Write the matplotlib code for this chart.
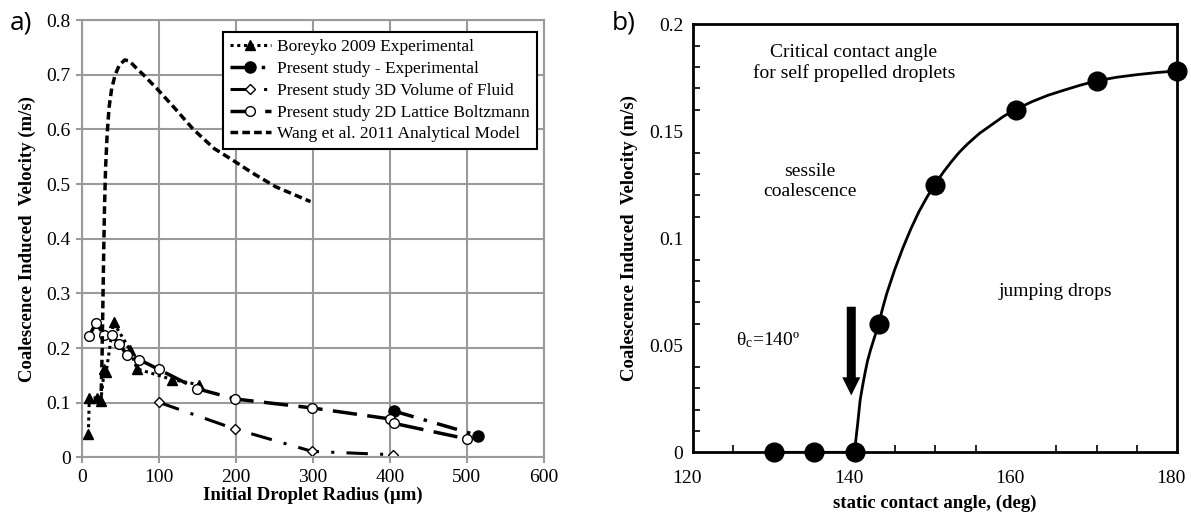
import numpy as np
import matplotlib
matplotlib.use('Agg')
import matplotlib.pyplot as plt
import matplotlib.transforms as mtransforms

plt.rcParams['font.family'] = ['Liberation Serif', 'DejaVu Serif']
plt.rcParams['mathtext.fontset'] = 'custom'
plt.rcParams['mathtext.rm'] = 'Liberation Serif'
plt.rcParams['mathtext.it'] = 'Liberation Serif'

# ---- panel a) data ----
boreyko_r = [8.6, 9.9, 19.6, 24.8, 29.5, 31.7, 41.3, 63.1, 71.8, 117.5, 152.2]
boreyko_v = [0.043, 0.109, 0.109, 0.104, 0.162, 0.156, 0.247, 0.196, 0.162, 0.1425, 0.133]

exp_r = [405, 515]
exp_v = [0.085, 0.040]

vof_r = [100, 199, 299.5, 404]
vof_v = [0.101, 0.052, 0.011, 0.005]

lbm_r = [9.5, 18.7, 29, 39, 48.7, 58.7, 74.8, 100, 149.5, 199, 299.5, 400, 405, 500]
lbm_v = [0.222, 0.246, 0.224, 0.224, 0.207, 0.188, 0.179, 0.161, 0.126, 0.107, 0.0905, 0.0705, 0.0625, 0.034]

wang_r = [25, 26.5, 27.5, 28.5, 29.5, 31, 33, 35.5, 39, 43.5, 49, 56, 62, 71, 80, 98,
          120, 145, 172, 198, 222, 252, 297]
wang_v = [0.10, 0.19, 0.28, 0.37, 0.45, 0.53, 0.59, 0.64, 0.675, 0.70, 0.718, 0.727, 0.725,
          0.712, 0.70, 0.674, 0.64, 0.60, 0.565, 0.542, 0.52, 0.495, 0.468]

# ---- panel b) data ----
angle_pts = [130, 135, 140, 143, 150, 160, 170, 180]
vel_pts = [0, 0, 0, 0.060, 0.125, 0.160, 0.1735, 0.178]

fit_angle = [130, 140, 140.2, 140.4, 140.7, 141, 141.3, 141.6, 142, 142.5, 143, 143.5, 144,
             145, 146, 147, 148, 149, 150, 151, 152, 153, 154, 155.5, 157, 158.5, 160,
             162, 164, 166, 168, 170, 172.5, 175, 177.5, 180]
fit_vel = [0, 0, 0.007, 0.0136, 0.0244, 0.031, 0.037, 0.0425, 0.048, 0.054, 0.060, 0.0675,
           0.0742, 0.0855, 0.0955, 0.1045, 0.1125, 0.1193, 0.1254, 0.1308, 0.1357, 0.1402,
           0.1440, 0.1490, 0.1530, 0.1570, 0.1602, 0.1638, 0.1668, 0.1692, 0.1715, 0.1735,
           0.1752, 0.1764, 0.1774, 0.1782]

fig = plt.figure(figsize=(11.91, 5.14), dpi=100)

# ================= panel a =================
ax1 = fig.add_axes([0.0686, 0.110, 0.388, 0.851])
grey = '#9a9a9a'
ax1.plot(boreyko_r, boreyko_v, color='black', ls=(0, (1, 1.2)), lw=2.2,
         marker='^', ms=7, mfc='black', mec='black', label='Boreyko 2009 Experimental')
ax1.plot(exp_r, exp_v, color='black', ls=(0, (6, 3, 1, 3)), lw=2.5,
         marker='o', ms=8, mfc='black', mec='black', label='Present study - Experimental')
ax1.plot(vof_r, vof_v, color='black', ls=(0, (7, 4, 1, 4)), lw=2.2,
         marker='D', ms=5, mfc='white', mec='black', mew=1, label='Present study 3D Volume of Fluid')
ax1.plot(lbm_r, lbm_v, color='black', ls=(0, (7, 3)), lw=2.5,
         marker='o', ms=7, mfc='white', mec='black', mew=1, label='Present study 2D Lattice Boltzmann')
ax1.plot(wang_r, wang_v, color='black', ls=(0, (2.2, 1.2)), lw=2.5,
         label='Wang et al. 2011 Analytical Model')

ax1.set_xlim(0, 600)
ax1.set_ylim(0, 0.8)
ax1.set_xticks(np.arange(0, 601, 100))
ax1.set_yticks(np.arange(0, 0.81, 0.1))
ax1.set_yticklabels(['0', '0.1', '0.2', '0.3', '0.4', '0.5', '0.6', '0.7', '0.8'])
ax1.grid(True, color=grey, lw=1.5)
ax1.set_axisbelow(True)
for s in ax1.spines.values():
    s.set_color(grey)
    s.set_linewidth(1.5)
ax1.tick_params(direction='out', length=4, width=1.5, color=grey, labelsize=14, pad=4)
ax1.set_xlabel('Initial Droplet Radius (\u00b5m)', fontsize=13.5, fontweight='bold', labelpad=1)
ax1.set_ylabel('Coalescence Induced  Velocity (m/s)', fontsize=13.5, fontweight='bold', labelpad=7)
leg = ax1.legend(loc='upper left', bbox_to_anchor=(0.305, 0.973), borderaxespad=0,
                 fontsize=12.5, frameon=True, fancybox=False, edgecolor='black',
                 framealpha=1, handlelength=2.4, handletextpad=0.35, labelspacing=0.33,
                 borderpad=0.4)
leg.get_frame().set_linewidth(1.5)

fig.text(0.008, 0.955, 'a)', fontsize=19, family='Open Sans', va='center')

# ================= panel b =================
ax2 = fig.add_axes([0.582, 0.120, 0.4064, 0.833])
ax2.plot(fit_angle, fit_vel, color='black', lw=2, zorder=2)
ax2.plot(angle_pts, vel_pts, ls='none', marker='o', ms=13.5, mfc='black', mec='black',
         zorder=3, clip_on=False)
ax2.set_xlim(120, 180)
ax2.set_ylim(0, 0.2)
ax2.set_xticks([120, 140, 160, 180])
ax2.set_xticks([125, 130, 135, 145, 150, 155, 165, 170, 175], minor=True)
ax2.set_yticks([0, 0.05, 0.1, 0.15, 0.2])
ax2.set_yticklabels(['0', '0.05', '0.1', '0.15', '0.2'])
ax2.set_yticks([v / 100 for v in range(1, 20) if v % 5 != 0], minor=True)
ax2.tick_params(which='major', length=0, labelsize=14)
ax2.tick_params(axis='x', which='major', pad=13)
ax2.tick_params(axis='y', which='major', pad=7)
ax2.tick_params(which='minor', direction='in', length=5, width=1.2, top=False, right=False)
shift = mtransforms.ScaledTranslation(-6 / 100, 0, fig.dpi_scale_trans)
for lab in ax2.get_xticklabels():
    lab.set_transform(lab.get_transform() + shift)
for s in ax2.spines.values():
    s.set_linewidth(2)
ax2.set_xlabel('static contact angle, (deg)', fontsize=13.5, fontweight='bold', labelpad=5)
ax2.set_ylabel('Coalescence Induced  Velocity (m/s)', fontsize=13.5, fontweight='bold', labelpad=8)

ax2.text(139.9, 0.182, 'Critical contact angle\nfor self propelled droplets', ha='center',
         va='center', fontsize=14, linespacing=1.25)
ax2.text(134.5, 0.1265, 'sessile\ncoalescence', ha='center', va='center', fontsize=14,
         linespacing=1.25)
ax2.text(164.9, 0.0753, 'jumping drops', ha='center', va='center', fontsize=14)
ax2.text(125.3, 0.0524, '\u03b8$_\\mathrm{c}$=140\u00ba', ha='left', va='center', fontsize=14)
ax2.annotate('', xy=(139.6, 0.0266), xytext=(139.6, 0.068),
             arrowprops=dict(arrowstyle='simple,head_length=1.3,head_width=1.3,tail_width=0.65',
                             color='black', lw=0, shrinkA=0, shrinkB=0))

fig.text(0.514, 0.955, 'b)', fontsize=19, family='Open Sans', va='center')

fig.savefig('out.png', dpi=100)
